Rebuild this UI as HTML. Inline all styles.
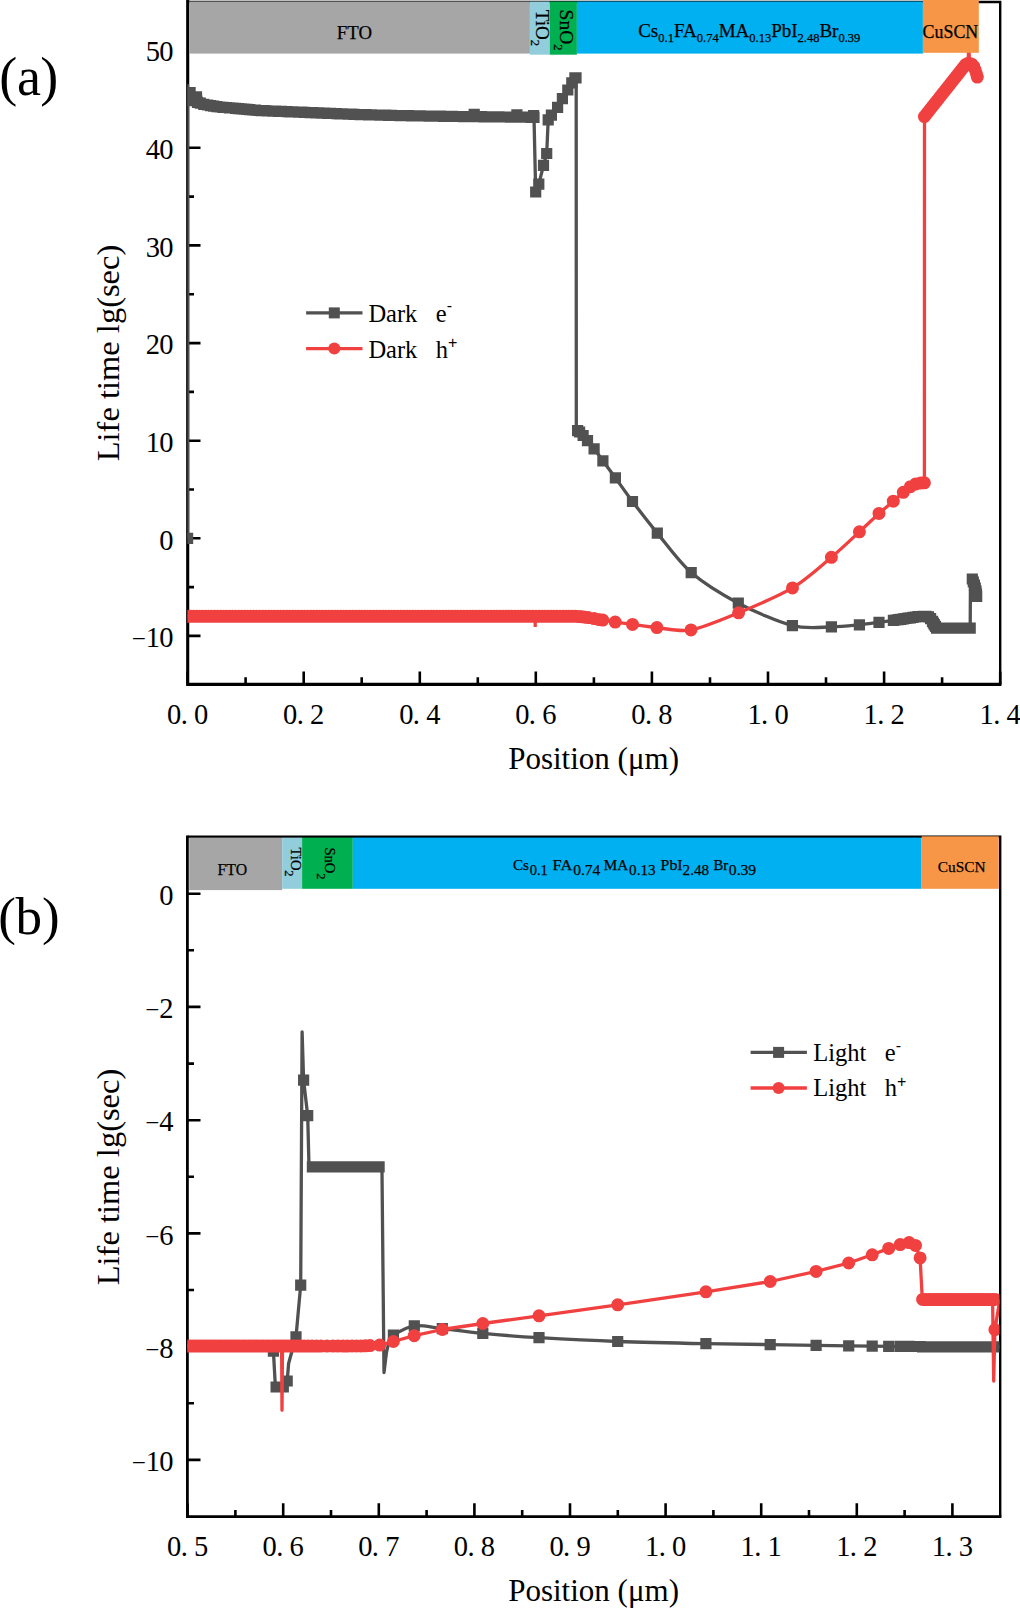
<!DOCTYPE html>
<html lang="en">
<head>
<meta charset="utf-8">
<title>Carrier life time vs position</title>
<style>
html,body{margin:0;padding:0;background:#fff;}
body{width:1020px;height:1608px;overflow:hidden;}
svg{display:block;}
text{font-family:"Liberation Serif",serif;fill:#000;}
.tk{font-size:28.5px;text-anchor:middle;}
.bd{stroke:#000;stroke-width:0.25px;}
.ttl{font-size:31px;text-anchor:middle;}
.lg{font-size:24.5px;white-space:pre;}
.yt{font-size:32.5px;}
.sp{font-family:"Liberation Sans",sans-serif;font-size:16px;}
.pl{font-size:54px;}
</style>
</head>
<body>
<svg width="1020" height="1608" viewBox="0 0 1020 1608">
<rect x="0" y="0" width="1020" height="1608" fill="#fff"/>
<defs>
<clipPath id="ca"><rect x="187.4" y="0" width="812.1" height="684.4"/></clipPath>
<clipPath id="cb"><rect x="187.4" y="836" width="812.1" height="680.5"/></clipPath>
</defs>

<!-- panel (a) frame -->
<g stroke="#000" fill="none" stroke-linecap="butt">
<path d="M187.7 0V684.4H1001.4" stroke-width="3.1"/>
<path d="M187.7 2H1000.2V684.4" stroke-width="2.4"/>
<path d="M187.7 635.9H200.5M187.7 538.3H200.5M187.7 440.7H200.5M187.7 343.1H200.5M187.7 245.4H200.5M187.7 147.8H200.5M187.7 587.1H194M187.7 489.5H194M187.7 391.9H194M187.7 294.2H194M187.7 196.6H194M187.7 99H194M187.6 684.4V671.5M245.6 684.4V677.3M303.7 684.4V671.5M361.7 684.4V677.3M419.8 684.4V671.5M477.8 684.4V677.3M535.8 684.4V671.5M593.9 684.4V677.3M651.9 684.4V671.5M710 684.4V677.3M768 684.4V671.5M826 684.4V677.3M884.1 684.4V671.5M942.1 684.4V677.3M1000.2 684.4V671.5" stroke-width="2.6"/>
</g>
<text class="tk" x="138.8 152.9 166.4" y="647.1"><tspan font-size="25">−</tspan>10</text>
<text class="tk" x="166.4" y="549.5">0</text>
<text class="tk" x="152.9 166.4" y="451.9">10</text>
<text class="tk" x="152.9 166.4" y="354.3">20</text>
<text class="tk" x="152.9 166.4" y="256.6">30</text>
<text class="tk" x="152.9 166.4" y="159">40</text>
<text class="tk" x="152.9 166.4" y="61.4">50</text>
<text class="tk" x="174.1 184.2 201.1" y="724">0.0</text>
<text class="tk" x="290.2 300.3 317.2" y="724">0.2</text>
<text class="tk" x="406.3 416.4 433.3" y="724">0.4</text>
<text class="tk" x="522.3 532.4 549.3" y="724">0.6</text>
<text class="tk" x="638.4 648.5 665.4" y="724">0.8</text>
<text class="tk" x="754.5 764.6 781.5" y="724">1.0</text>
<text class="tk" x="870.6 880.7 897.6" y="724">1.2</text>
<text class="tk" x="986.7 996.8 1013.7" y="724">1.4</text>
<g clip-path="url(#ca)">
<path d="M187.6 538.3L187.6 85.5L187.6 100L190.1 92.5L196.5 96.9L197.5 102.3C198 102.5 199.2 102.9 200.3 103.2C201.4 103.5 202.6 104 203.8 104.3C205 104.6 206 104.7 207.6 105C209.2 105.3 211.5 105.9 213.6 106.2C215.7 106.5 216.2 106.7 219.9 107C223.6 107.3 229.2 107.7 235.6 108.3C242 108.9 245.5 109.8 258.4 110.5C271.3 111.2 296.1 112 313 112.7C329.9 113.4 345.5 114.1 360 114.6C374.5 115.1 383.7 115.3 400 115.6C416.3 115.9 435.7 116.2 458 116.5C480.3 116.8 521.3 117.2 534 117.3L535.7 192L538.8 184.1L543.5 165.3L546.7 153.5L548.2 119.8L551.4 115.1L557.6 107.3L562.4 98.6L567.8 90L571.8 82.9L574.9 77.9L576 77.9L576.2 80L576.3 426L577.4 430.6" fill="none" stroke="#515151" stroke-width="3.3" stroke-linejoin="round"/>
<path d="M577.2 430.6C577.6 430.8 578.7 431.3 579.6 432C580.5 432.7 581.9 434.2 583.1 435.5C584.3 436.8 585.9 438.6 587.5 440.6C589.1 442.6 591.8 445.8 594.1 448.8C596.4 451.8 599.7 456.4 602.9 460.8C606.1 465.2 611 471.7 615.4 477.8C619.8 483.9 626.2 493.2 632.5 501.5C638.8 509.8 648.5 522.4 657.3 533.1C666.1 543.8 679.1 562.1 691.2 572.6C703.4 583.1 723.1 595.2 738.3 603.2C753.5 611.2 778.4 622 792.4 625.6C806.4 629.2 821.4 627 831.4 626.9C841.4 626.8 852.3 625.5 859.4 624.8C866.5 624.1 873.9 623 879 622.3C884.1 621.6 889.8 620.9 893.4 620.4C897 619.9 900.8 619.3 903.3 618.9C905.8 618.5 908.6 618.1 910.4 617.8C912.2 617.5 914 617.2 915.5 617C917 616.8 919 616.6 920.6 616.5C922.2 616.4 924.7 616.2 925.9 616.3C927.1 616.4 927.8 616.6 928.5 616.9C929.2 617.2 930 617.9 930.6 618.6C931.2 619.3 931.9 620.4 932.5 621.3C933.1 622.2 933.7 623.6 934.3 624.6C934.9 625.6 936.3 627.6 936.6 628.1L970.2 628.1L970.4 590L972.3 579L976.7 596.5" fill="none" stroke="#515151" stroke-width="3.3" stroke-linejoin="round"/>
<path d="M182 532.7h11.2v11.2h-11.2zM182 86.9h11.2v11.2h-11.2zM182 88.9h11.2v11.2h-11.2zM182 90.9h11.2v11.2h-11.2zM182 93.4h11.2v11.2h-11.2zM182 95.1h11.2v11.2h-11.2zM184.5 86.9h11.2v11.2h-11.2zM190.9 91.3h11.2v11.2h-11.2zM191.1 94.4h11.2v11.2h-11.2zM191.9 96.7h11.2v11.2h-11.2zM194.7 97.6h11.2v11.2h-11.2zM198.2 98.7h11.2v11.2h-11.2zM202 99.4h11.2v11.2h-11.2zM205 100h11.2v11.2h-11.2zM208 100.6h11.2v11.2h-11.2zM211.2 101h11.2v11.2h-11.2zM214.3 101.4h11.2v11.2h-11.2zM217.4 101.7h11.2v11.2h-11.2zM220.6 101.9h11.2v11.2h-11.2zM223.7 102.2h11.2v11.2h-11.2zM226.9 102.4h11.2v11.2h-11.2zM230 102.7h11.2v11.2h-11.2zM232.8 103h11.2v11.2h-11.2zM235.7 103.2h11.2v11.2h-11.2zM238.5 103.5h11.2v11.2h-11.2zM241.4 103.8h11.2v11.2h-11.2zM244.2 104.1h11.2v11.2h-11.2zM247.1 104.4h11.2v11.2h-11.2zM249.9 104.6h11.2v11.2h-11.2zM252.8 104.9h11.2v11.2h-11.2zM255.7 105h11.2v11.2h-11.2zM258.5 105.1h11.2v11.2h-11.2zM261.4 105.2h11.2v11.2h-11.2zM264.3 105.4h11.2v11.2h-11.2zM267.2 105.5h11.2v11.2h-11.2zM270 105.6h11.2v11.2h-11.2zM272.9 105.7h11.2v11.2h-11.2zM275.8 105.8h11.2v11.2h-11.2zM278.7 105.9h11.2v11.2h-11.2zM281.5 106.1h11.2v11.2h-11.2zM284.4 106.2h11.2v11.2h-11.2zM287.3 106.3h11.2v11.2h-11.2zM290.2 106.4h11.2v11.2h-11.2zM293 106.5h11.2v11.2h-11.2zM295.9 106.6h11.2v11.2h-11.2zM298.8 106.8h11.2v11.2h-11.2zM301.7 106.9h11.2v11.2h-11.2zM304.5 107h11.2v11.2h-11.2zM307.4 107.1h11.2v11.2h-11.2zM310.3 107.2h11.2v11.2h-11.2zM313.3 107.3h11.2v11.2h-11.2zM316.2 107.5h11.2v11.2h-11.2zM319.1 107.6h11.2v11.2h-11.2zM322.1 107.7h11.2v11.2h-11.2zM325 107.8h11.2v11.2h-11.2zM328 107.9h11.2v11.2h-11.2zM330.9 108.1h11.2v11.2h-11.2zM333.8 108.2h11.2v11.2h-11.2zM336.8 108.3h11.2v11.2h-11.2zM339.7 108.4h11.2v11.2h-11.2zM342.6 108.5h11.2v11.2h-11.2zM345.6 108.6h11.2v11.2h-11.2zM348.5 108.8h11.2v11.2h-11.2zM351.5 108.9h11.2v11.2h-11.2zM354.4 109h11.2v11.2h-11.2zM357.3 109.1h11.2v11.2h-11.2zM360.1 109.1h11.2v11.2h-11.2zM363 109.2h11.2v11.2h-11.2zM365.8 109.3h11.2v11.2h-11.2zM368.7 109.4h11.2v11.2h-11.2zM371.5 109.4h11.2v11.2h-11.2zM374.4 109.5h11.2v11.2h-11.2zM377.3 109.6h11.2v11.2h-11.2zM380.1 109.6h11.2v11.2h-11.2zM383 109.7h11.2v11.2h-11.2zM385.8 109.8h11.2v11.2h-11.2zM388.7 109.9h11.2v11.2h-11.2zM391.5 109.9h11.2v11.2h-11.2zM394.4 110h11.2v11.2h-11.2zM397.3 110h11.2v11.2h-11.2zM400.2 110.1h11.2v11.2h-11.2zM403.1 110.1h11.2v11.2h-11.2zM406 110.2h11.2v11.2h-11.2zM408.9 110.2h11.2v11.2h-11.2zM411.8 110.3h11.2v11.2h-11.2zM414.7 110.3h11.2v11.2h-11.2zM417.6 110.4h11.2v11.2h-11.2zM420.5 110.4h11.2v11.2h-11.2zM423.4 110.5h11.2v11.2h-11.2zM426.3 110.5h11.2v11.2h-11.2zM429.2 110.5h11.2v11.2h-11.2zM432.1 110.6h11.2v11.2h-11.2zM435 110.6h11.2v11.2h-11.2zM437.9 110.7h11.2v11.2h-11.2zM440.8 110.7h11.2v11.2h-11.2zM443.7 110.8h11.2v11.2h-11.2zM446.6 110.8h11.2v11.2h-11.2zM449.5 110.9h11.2v11.2h-11.2zM452.4 110.9h11.2v11.2h-11.2zM455.3 110.9h11.2v11.2h-11.2zM458.2 111h11.2v11.2h-11.2zM461.2 111h11.2v11.2h-11.2zM464.1 111h11.2v11.2h-11.2zM467 111.1h11.2v11.2h-11.2zM469.9 111.1h11.2v11.2h-11.2zM472.9 111.1h11.2v11.2h-11.2zM475.8 111.1h11.2v11.2h-11.2zM478.7 111.2h11.2v11.2h-11.2zM481.6 111.2h11.2v11.2h-11.2zM484.6 111.2h11.2v11.2h-11.2zM487.5 111.3h11.2v11.2h-11.2zM490.4 111.3h11.2v11.2h-11.2zM493.3 111.3h11.2v11.2h-11.2zM496.2 111.4h11.2v11.2h-11.2zM499.2 111.4h11.2v11.2h-11.2zM502.1 111.4h11.2v11.2h-11.2zM505 111.5h11.2v11.2h-11.2zM507.9 111.5h11.2v11.2h-11.2zM510.9 111.5h11.2v11.2h-11.2zM513.8 111.5h11.2v11.2h-11.2zM516.7 111.6h11.2v11.2h-11.2zM519.6 111.6h11.2v11.2h-11.2zM522.6 111.6h11.2v11.2h-11.2zM525.5 111.7h11.2v11.2h-11.2zM528.4 111.7h11.2v11.2h-11.2zM468.6 108.7h11.2v11.2h-11.2zM511.3 109.3h11.2v11.2h-11.2zM528 110h11.2v11.2h-11.2zM530.1 186.4h11.2v11.2h-11.2zM533.2 178.5h11.2v11.2h-11.2zM537.9 159.7h11.2v11.2h-11.2zM541.1 147.9h11.2v11.2h-11.2zM542.6 114.2h11.2v11.2h-11.2zM545.8 109.5h11.2v11.2h-11.2zM552 101.7h11.2v11.2h-11.2zM556.8 93h11.2v11.2h-11.2zM562.2 84.4h11.2v11.2h-11.2zM566.2 77.3h11.2v11.2h-11.2zM569.3 72.3h11.2v11.2h-11.2zM570.4 72.3h11.2v11.2h-11.2zM572 425h11.2v11.2h-11.2zM574 426.4h11.2v11.2h-11.2zM577.5 429.9h11.2v11.2h-11.2zM581.9 435h11.2v11.2h-11.2zM588.5 443.2h11.2v11.2h-11.2zM597.3 455.2h11.2v11.2h-11.2zM609.8 472.2h11.2v11.2h-11.2zM626.9 495.9h11.2v11.2h-11.2zM651.7 527.5h11.2v11.2h-11.2zM685.6 567h11.2v11.2h-11.2zM732.7 597.6h11.2v11.2h-11.2zM786.8 620h11.2v11.2h-11.2zM825.8 621.3h11.2v11.2h-11.2zM853.8 619.2h11.2v11.2h-11.2zM873.4 616.7h11.2v11.2h-11.2zM887.8 614.8h11.2v11.2h-11.2zM887.8 614.8h11.2v11.2h-11.2zM890.3 614.4h11.2v11.2h-11.2zM892.7 614h11.2v11.2h-11.2zM895.2 613.7h11.2v11.2h-11.2zM897.7 613.3h11.2v11.2h-11.2zM900.1 612.9h11.2v11.2h-11.2zM902.4 612.6h11.2v11.2h-11.2zM904.8 612.2h11.2v11.2h-11.2zM907.4 611.8h11.2v11.2h-11.2zM909.9 611.4h11.2v11.2h-11.2zM912.4 611.1h11.2v11.2h-11.2zM915 610.9h11.2v11.2h-11.2zM917.6 610.8h11.2v11.2h-11.2zM920.3 610.7h11.2v11.2h-11.2zM922.9 611.3h11.2v11.2h-11.2zM925 613h11.2v11.2h-11.2zM926.9 615.7h11.2v11.2h-11.2zM927.8 617.4h11.2v11.2h-11.2zM928.7 619h11.2v11.2h-11.2zM929.9 620.8h11.2v11.2h-11.2zM931 622.5h11.2v11.2h-11.2zM931 622.5h11.2v11.2h-11.2zM933.8 622.5h11.2v11.2h-11.2zM936.6 622.5h11.2v11.2h-11.2zM939.4 622.5h11.2v11.2h-11.2zM942.2 622.5h11.2v11.2h-11.2zM945 622.5h11.2v11.2h-11.2zM947.8 622.5h11.2v11.2h-11.2zM950.6 622.5h11.2v11.2h-11.2zM953.4 622.5h11.2v11.2h-11.2zM956.2 622.5h11.2v11.2h-11.2zM959 622.5h11.2v11.2h-11.2zM961.8 622.5h11.2v11.2h-11.2zM964.6 622.5h11.2v11.2h-11.2zM966.7 573.4h11.2v11.2h-11.2zM967.7 576.4h11.2v11.2h-11.2zM968.8 579.4h11.2v11.2h-11.2zM969.7 582.4h11.2v11.2h-11.2zM970.4 585.4h11.2v11.2h-11.2zM970.9 588.4h11.2v11.2h-11.2zM971.1 590.9h11.2v11.2h-11.2z" fill="#515151"/>
<path d="M535.2 616.3V627M187.6 616.3L575 616.3C576 616.4 580 616.6 582 616.8C584 617 586.2 617.3 588 617.6C589.8 617.9 592.4 618.3 594 618.6C595.6 618.9 597.2 619.2 598.5 619.4C599.8 619.6 600.3 619.7 602.8 620.1C605.3 620.5 610.7 621.5 615.2 622.1C619.7 622.7 626.2 623.6 632.5 624.4C638.8 625.2 648.1 626.8 656.9 627.6C665.7 628.4 678.7 632.1 691 629.9C703.3 627.7 723.4 619.1 738.6 612.8C753.8 606.5 778.6 596.2 792.5 587.9C806.4 579.6 821.4 565.7 831.4 557.3C841.4 548.9 852.3 538.4 859.4 531.8C866.5 525.2 873.9 518 879 513.4C884.1 508.8 889.7 504.4 893.3 501.2C896.9 498 900.7 494.5 903.3 492.3C905.9 490.1 908.6 487.9 910.4 486.7C912.2 485.5 914 484.7 915.5 484.1C917 483.5 919.3 483.1 920.6 482.9C921.9 482.7 923.8 482.8 924.4 482.8L924.5 116.6L966.3 63.9L968.2 62.5L968.8 40L969.4 62.5L977.3 77.1" fill="none" stroke="#F14040" stroke-width="3.3" stroke-linejoin="round"/>
<path d="M181.1 616.3a6.5 6.5 0 1 0 13 0a6.5 6.5 0 1 0 -13 0zM184.1 616.3a6.5 6.5 0 1 0 13 0a6.5 6.5 0 1 0 -13 0zM187.1 616.3a6.5 6.5 0 1 0 13 0a6.5 6.5 0 1 0 -13 0zM190.1 616.3a6.5 6.5 0 1 0 13 0a6.5 6.5 0 1 0 -13 0zM193.1 616.3a6.5 6.5 0 1 0 13 0a6.5 6.5 0 1 0 -13 0zM196.1 616.3a6.5 6.5 0 1 0 13 0a6.5 6.5 0 1 0 -13 0zM199.1 616.3a6.5 6.5 0 1 0 13 0a6.5 6.5 0 1 0 -13 0zM202.1 616.3a6.5 6.5 0 1 0 13 0a6.5 6.5 0 1 0 -13 0zM205.1 616.3a6.5 6.5 0 1 0 13 0a6.5 6.5 0 1 0 -13 0zM208.1 616.3a6.5 6.5 0 1 0 13 0a6.5 6.5 0 1 0 -13 0zM211.1 616.3a6.5 6.5 0 1 0 13 0a6.5 6.5 0 1 0 -13 0zM214.1 616.3a6.5 6.5 0 1 0 13 0a6.5 6.5 0 1 0 -13 0zM217.1 616.3a6.5 6.5 0 1 0 13 0a6.5 6.5 0 1 0 -13 0zM220.1 616.3a6.5 6.5 0 1 0 13 0a6.5 6.5 0 1 0 -13 0zM223.1 616.3a6.5 6.5 0 1 0 13 0a6.5 6.5 0 1 0 -13 0zM226.1 616.3a6.5 6.5 0 1 0 13 0a6.5 6.5 0 1 0 -13 0zM229.1 616.3a6.5 6.5 0 1 0 13 0a6.5 6.5 0 1 0 -13 0zM232.2 616.3a6.5 6.5 0 1 0 13 0a6.5 6.5 0 1 0 -13 0zM235.2 616.3a6.5 6.5 0 1 0 13 0a6.5 6.5 0 1 0 -13 0zM238.2 616.3a6.5 6.5 0 1 0 13 0a6.5 6.5 0 1 0 -13 0zM241.2 616.3a6.5 6.5 0 1 0 13 0a6.5 6.5 0 1 0 -13 0zM244.2 616.3a6.5 6.5 0 1 0 13 0a6.5 6.5 0 1 0 -13 0zM247.2 616.3a6.5 6.5 0 1 0 13 0a6.5 6.5 0 1 0 -13 0zM250.2 616.3a6.5 6.5 0 1 0 13 0a6.5 6.5 0 1 0 -13 0zM253.2 616.3a6.5 6.5 0 1 0 13 0a6.5 6.5 0 1 0 -13 0zM256.2 616.3a6.5 6.5 0 1 0 13 0a6.5 6.5 0 1 0 -13 0zM259.2 616.3a6.5 6.5 0 1 0 13 0a6.5 6.5 0 1 0 -13 0zM262.2 616.3a6.5 6.5 0 1 0 13 0a6.5 6.5 0 1 0 -13 0zM265.2 616.3a6.5 6.5 0 1 0 13 0a6.5 6.5 0 1 0 -13 0zM268.2 616.3a6.5 6.5 0 1 0 13 0a6.5 6.5 0 1 0 -13 0zM271.2 616.3a6.5 6.5 0 1 0 13 0a6.5 6.5 0 1 0 -13 0zM274.2 616.3a6.5 6.5 0 1 0 13 0a6.5 6.5 0 1 0 -13 0zM277.2 616.3a6.5 6.5 0 1 0 13 0a6.5 6.5 0 1 0 -13 0zM280.2 616.3a6.5 6.5 0 1 0 13 0a6.5 6.5 0 1 0 -13 0zM283.2 616.3a6.5 6.5 0 1 0 13 0a6.5 6.5 0 1 0 -13 0zM286.2 616.3a6.5 6.5 0 1 0 13 0a6.5 6.5 0 1 0 -13 0zM289.2 616.3a6.5 6.5 0 1 0 13 0a6.5 6.5 0 1 0 -13 0zM292.2 616.3a6.5 6.5 0 1 0 13 0a6.5 6.5 0 1 0 -13 0zM295.2 616.3a6.5 6.5 0 1 0 13 0a6.5 6.5 0 1 0 -13 0zM298.2 616.3a6.5 6.5 0 1 0 13 0a6.5 6.5 0 1 0 -13 0zM301.2 616.3a6.5 6.5 0 1 0 13 0a6.5 6.5 0 1 0 -13 0zM304.2 616.3a6.5 6.5 0 1 0 13 0a6.5 6.5 0 1 0 -13 0zM307.2 616.3a6.5 6.5 0 1 0 13 0a6.5 6.5 0 1 0 -13 0zM310.2 616.3a6.5 6.5 0 1 0 13 0a6.5 6.5 0 1 0 -13 0zM313.2 616.3a6.5 6.5 0 1 0 13 0a6.5 6.5 0 1 0 -13 0zM316.2 616.3a6.5 6.5 0 1 0 13 0a6.5 6.5 0 1 0 -13 0zM319.2 616.3a6.5 6.5 0 1 0 13 0a6.5 6.5 0 1 0 -13 0zM322.2 616.3a6.5 6.5 0 1 0 13 0a6.5 6.5 0 1 0 -13 0zM325.2 616.3a6.5 6.5 0 1 0 13 0a6.5 6.5 0 1 0 -13 0zM328.3 616.3a6.5 6.5 0 1 0 13 0a6.5 6.5 0 1 0 -13 0zM331.3 616.3a6.5 6.5 0 1 0 13 0a6.5 6.5 0 1 0 -13 0zM334.3 616.3a6.5 6.5 0 1 0 13 0a6.5 6.5 0 1 0 -13 0zM337.3 616.3a6.5 6.5 0 1 0 13 0a6.5 6.5 0 1 0 -13 0zM340.3 616.3a6.5 6.5 0 1 0 13 0a6.5 6.5 0 1 0 -13 0zM343.3 616.3a6.5 6.5 0 1 0 13 0a6.5 6.5 0 1 0 -13 0zM346.3 616.3a6.5 6.5 0 1 0 13 0a6.5 6.5 0 1 0 -13 0zM349.3 616.3a6.5 6.5 0 1 0 13 0a6.5 6.5 0 1 0 -13 0zM352.3 616.3a6.5 6.5 0 1 0 13 0a6.5 6.5 0 1 0 -13 0zM355.3 616.3a6.5 6.5 0 1 0 13 0a6.5 6.5 0 1 0 -13 0zM358.3 616.3a6.5 6.5 0 1 0 13 0a6.5 6.5 0 1 0 -13 0zM361.3 616.3a6.5 6.5 0 1 0 13 0a6.5 6.5 0 1 0 -13 0zM364.3 616.3a6.5 6.5 0 1 0 13 0a6.5 6.5 0 1 0 -13 0zM367.3 616.3a6.5 6.5 0 1 0 13 0a6.5 6.5 0 1 0 -13 0zM370.3 616.3a6.5 6.5 0 1 0 13 0a6.5 6.5 0 1 0 -13 0zM373.3 616.3a6.5 6.5 0 1 0 13 0a6.5 6.5 0 1 0 -13 0zM376.3 616.3a6.5 6.5 0 1 0 13 0a6.5 6.5 0 1 0 -13 0zM379.3 616.3a6.5 6.5 0 1 0 13 0a6.5 6.5 0 1 0 -13 0zM382.3 616.3a6.5 6.5 0 1 0 13 0a6.5 6.5 0 1 0 -13 0zM385.3 616.3a6.5 6.5 0 1 0 13 0a6.5 6.5 0 1 0 -13 0zM388.3 616.3a6.5 6.5 0 1 0 13 0a6.5 6.5 0 1 0 -13 0zM391.3 616.3a6.5 6.5 0 1 0 13 0a6.5 6.5 0 1 0 -13 0zM394.3 616.3a6.5 6.5 0 1 0 13 0a6.5 6.5 0 1 0 -13 0zM397.3 616.3a6.5 6.5 0 1 0 13 0a6.5 6.5 0 1 0 -13 0zM400.3 616.3a6.5 6.5 0 1 0 13 0a6.5 6.5 0 1 0 -13 0zM403.3 616.3a6.5 6.5 0 1 0 13 0a6.5 6.5 0 1 0 -13 0zM406.3 616.3a6.5 6.5 0 1 0 13 0a6.5 6.5 0 1 0 -13 0zM409.3 616.3a6.5 6.5 0 1 0 13 0a6.5 6.5 0 1 0 -13 0zM412.3 616.3a6.5 6.5 0 1 0 13 0a6.5 6.5 0 1 0 -13 0zM415.3 616.3a6.5 6.5 0 1 0 13 0a6.5 6.5 0 1 0 -13 0zM418.3 616.3a6.5 6.5 0 1 0 13 0a6.5 6.5 0 1 0 -13 0zM421.3 616.3a6.5 6.5 0 1 0 13 0a6.5 6.5 0 1 0 -13 0zM424.4 616.3a6.5 6.5 0 1 0 13 0a6.5 6.5 0 1 0 -13 0zM427.4 616.3a6.5 6.5 0 1 0 13 0a6.5 6.5 0 1 0 -13 0zM430.4 616.3a6.5 6.5 0 1 0 13 0a6.5 6.5 0 1 0 -13 0zM433.4 616.3a6.5 6.5 0 1 0 13 0a6.5 6.5 0 1 0 -13 0zM436.4 616.3a6.5 6.5 0 1 0 13 0a6.5 6.5 0 1 0 -13 0zM439.4 616.3a6.5 6.5 0 1 0 13 0a6.5 6.5 0 1 0 -13 0zM442.4 616.3a6.5 6.5 0 1 0 13 0a6.5 6.5 0 1 0 -13 0zM445.4 616.3a6.5 6.5 0 1 0 13 0a6.5 6.5 0 1 0 -13 0zM448.4 616.3a6.5 6.5 0 1 0 13 0a6.5 6.5 0 1 0 -13 0zM451.4 616.3a6.5 6.5 0 1 0 13 0a6.5 6.5 0 1 0 -13 0zM454.4 616.3a6.5 6.5 0 1 0 13 0a6.5 6.5 0 1 0 -13 0zM457.4 616.3a6.5 6.5 0 1 0 13 0a6.5 6.5 0 1 0 -13 0zM460.4 616.3a6.5 6.5 0 1 0 13 0a6.5 6.5 0 1 0 -13 0zM463.4 616.3a6.5 6.5 0 1 0 13 0a6.5 6.5 0 1 0 -13 0zM466.4 616.3a6.5 6.5 0 1 0 13 0a6.5 6.5 0 1 0 -13 0zM469.4 616.3a6.5 6.5 0 1 0 13 0a6.5 6.5 0 1 0 -13 0zM472.4 616.3a6.5 6.5 0 1 0 13 0a6.5 6.5 0 1 0 -13 0zM475.4 616.3a6.5 6.5 0 1 0 13 0a6.5 6.5 0 1 0 -13 0zM478.4 616.3a6.5 6.5 0 1 0 13 0a6.5 6.5 0 1 0 -13 0zM481.4 616.3a6.5 6.5 0 1 0 13 0a6.5 6.5 0 1 0 -13 0zM484.4 616.3a6.5 6.5 0 1 0 13 0a6.5 6.5 0 1 0 -13 0zM487.4 616.3a6.5 6.5 0 1 0 13 0a6.5 6.5 0 1 0 -13 0zM490.4 616.3a6.5 6.5 0 1 0 13 0a6.5 6.5 0 1 0 -13 0zM493.4 616.3a6.5 6.5 0 1 0 13 0a6.5 6.5 0 1 0 -13 0zM496.4 616.3a6.5 6.5 0 1 0 13 0a6.5 6.5 0 1 0 -13 0zM499.4 616.3a6.5 6.5 0 1 0 13 0a6.5 6.5 0 1 0 -13 0zM502.4 616.3a6.5 6.5 0 1 0 13 0a6.5 6.5 0 1 0 -13 0zM505.4 616.3a6.5 6.5 0 1 0 13 0a6.5 6.5 0 1 0 -13 0zM508.4 616.3a6.5 6.5 0 1 0 13 0a6.5 6.5 0 1 0 -13 0zM511.4 616.3a6.5 6.5 0 1 0 13 0a6.5 6.5 0 1 0 -13 0zM514.4 616.3a6.5 6.5 0 1 0 13 0a6.5 6.5 0 1 0 -13 0zM517.4 616.3a6.5 6.5 0 1 0 13 0a6.5 6.5 0 1 0 -13 0zM520.5 616.3a6.5 6.5 0 1 0 13 0a6.5 6.5 0 1 0 -13 0zM523.5 616.3a6.5 6.5 0 1 0 13 0a6.5 6.5 0 1 0 -13 0zM526.5 616.3a6.5 6.5 0 1 0 13 0a6.5 6.5 0 1 0 -13 0zM529.5 616.3a6.5 6.5 0 1 0 13 0a6.5 6.5 0 1 0 -13 0zM532.5 616.3a6.5 6.5 0 1 0 13 0a6.5 6.5 0 1 0 -13 0zM535.5 616.3a6.5 6.5 0 1 0 13 0a6.5 6.5 0 1 0 -13 0zM538.5 616.3a6.5 6.5 0 1 0 13 0a6.5 6.5 0 1 0 -13 0zM541.5 616.3a6.5 6.5 0 1 0 13 0a6.5 6.5 0 1 0 -13 0zM544.5 616.3a6.5 6.5 0 1 0 13 0a6.5 6.5 0 1 0 -13 0zM547.5 616.3a6.5 6.5 0 1 0 13 0a6.5 6.5 0 1 0 -13 0zM550.5 616.3a6.5 6.5 0 1 0 13 0a6.5 6.5 0 1 0 -13 0zM553.5 616.3a6.5 6.5 0 1 0 13 0a6.5 6.5 0 1 0 -13 0zM556.5 616.3a6.5 6.5 0 1 0 13 0a6.5 6.5 0 1 0 -13 0zM559.5 616.3a6.5 6.5 0 1 0 13 0a6.5 6.5 0 1 0 -13 0zM562.5 616.3a6.5 6.5 0 1 0 13 0a6.5 6.5 0 1 0 -13 0zM565.5 616.3a6.5 6.5 0 1 0 13 0a6.5 6.5 0 1 0 -13 0zM568.5 616.3a6.5 6.5 0 1 0 13 0a6.5 6.5 0 1 0 -13 0zM568.5 616.3a6.5 6.5 0 1 0 13 0a6.5 6.5 0 1 0 -13 0zM570.8 616.5a6.5 6.5 0 1 0 13 0a6.5 6.5 0 1 0 -13 0zM573.2 616.6a6.5 6.5 0 1 0 13 0a6.5 6.5 0 1 0 -13 0zM575.5 616.8a6.5 6.5 0 1 0 13 0a6.5 6.5 0 1 0 -13 0zM578.5 617.2a6.5 6.5 0 1 0 13 0a6.5 6.5 0 1 0 -13 0zM581.5 617.6a6.5 6.5 0 1 0 13 0a6.5 6.5 0 1 0 -13 0zM587.5 618.6a6.5 6.5 0 1 0 13 0a6.5 6.5 0 1 0 -13 0zM592 619.4a6.5 6.5 0 1 0 13 0a6.5 6.5 0 1 0 -13 0zM596.3 620.1a6.5 6.5 0 1 0 13 0a6.5 6.5 0 1 0 -13 0zM608.7 622.1a6.5 6.5 0 1 0 13 0a6.5 6.5 0 1 0 -13 0zM626 624.4a6.5 6.5 0 1 0 13 0a6.5 6.5 0 1 0 -13 0zM650.4 627.6a6.5 6.5 0 1 0 13 0a6.5 6.5 0 1 0 -13 0zM684.5 629.9a6.5 6.5 0 1 0 13 0a6.5 6.5 0 1 0 -13 0zM732.1 612.8a6.5 6.5 0 1 0 13 0a6.5 6.5 0 1 0 -13 0zM786 587.9a6.5 6.5 0 1 0 13 0a6.5 6.5 0 1 0 -13 0zM824.9 557.3a6.5 6.5 0 1 0 13 0a6.5 6.5 0 1 0 -13 0zM852.9 531.8a6.5 6.5 0 1 0 13 0a6.5 6.5 0 1 0 -13 0zM872.5 513.4a6.5 6.5 0 1 0 13 0a6.5 6.5 0 1 0 -13 0zM886.8 501.2a6.5 6.5 0 1 0 13 0a6.5 6.5 0 1 0 -13 0zM896.8 492.3a6.5 6.5 0 1 0 13 0a6.5 6.5 0 1 0 -13 0zM903.9 486.7a6.5 6.5 0 1 0 13 0a6.5 6.5 0 1 0 -13 0zM909 484.1a6.5 6.5 0 1 0 13 0a6.5 6.5 0 1 0 -13 0zM914.1 482.9a6.5 6.5 0 1 0 13 0a6.5 6.5 0 1 0 -13 0zM917.9 482.8a6.5 6.5 0 1 0 13 0a6.5 6.5 0 1 0 -13 0zM917.9 116.6a6.5 6.5 0 1 0 13 0a6.5 6.5 0 1 0 -13 0zM919.5 114.6a6.5 6.5 0 1 0 13 0a6.5 6.5 0 1 0 -13 0zM921.1 112.6a6.5 6.5 0 1 0 13 0a6.5 6.5 0 1 0 -13 0zM922.7 110.6a6.5 6.5 0 1 0 13 0a6.5 6.5 0 1 0 -13 0zM924.2 108.6a6.5 6.5 0 1 0 13 0a6.5 6.5 0 1 0 -13 0zM925.8 106.6a6.5 6.5 0 1 0 13 0a6.5 6.5 0 1 0 -13 0zM927.4 104.6a6.5 6.5 0 1 0 13 0a6.5 6.5 0 1 0 -13 0zM929 102.6a6.5 6.5 0 1 0 13 0a6.5 6.5 0 1 0 -13 0zM930.6 100.6a6.5 6.5 0 1 0 13 0a6.5 6.5 0 1 0 -13 0zM932.2 98.6a6.5 6.5 0 1 0 13 0a6.5 6.5 0 1 0 -13 0zM933.7 96.6a6.5 6.5 0 1 0 13 0a6.5 6.5 0 1 0 -13 0zM935.3 94.6a6.5 6.5 0 1 0 13 0a6.5 6.5 0 1 0 -13 0zM936.9 92.6a6.5 6.5 0 1 0 13 0a6.5 6.5 0 1 0 -13 0zM938.5 90.6a6.5 6.5 0 1 0 13 0a6.5 6.5 0 1 0 -13 0zM940.1 88.6a6.5 6.5 0 1 0 13 0a6.5 6.5 0 1 0 -13 0zM941.7 86.6a6.5 6.5 0 1 0 13 0a6.5 6.5 0 1 0 -13 0zM943.3 84.6a6.5 6.5 0 1 0 13 0a6.5 6.5 0 1 0 -13 0zM944.8 82.6a6.5 6.5 0 1 0 13 0a6.5 6.5 0 1 0 -13 0zM946.4 80.6a6.5 6.5 0 1 0 13 0a6.5 6.5 0 1 0 -13 0zM948 78.6a6.5 6.5 0 1 0 13 0a6.5 6.5 0 1 0 -13 0zM949.6 76.6a6.5 6.5 0 1 0 13 0a6.5 6.5 0 1 0 -13 0zM951.2 74.6a6.5 6.5 0 1 0 13 0a6.5 6.5 0 1 0 -13 0zM952.8 72.6a6.5 6.5 0 1 0 13 0a6.5 6.5 0 1 0 -13 0zM954.3 70.6a6.5 6.5 0 1 0 13 0a6.5 6.5 0 1 0 -13 0zM955.9 68.6a6.5 6.5 0 1 0 13 0a6.5 6.5 0 1 0 -13 0zM957.5 66.6a6.5 6.5 0 1 0 13 0a6.5 6.5 0 1 0 -13 0zM959.1 64.6a6.5 6.5 0 1 0 13 0a6.5 6.5 0 1 0 -13 0zM961.1 63.6a6.5 6.5 0 1 0 13 0a6.5 6.5 0 1 0 -13 0zM963.3 63.6a6.5 6.5 0 1 0 13 0a6.5 6.5 0 1 0 -13 0zM965.3 64.2a6.5 6.5 0 1 0 13 0a6.5 6.5 0 1 0 -13 0zM967.1 66.2a6.5 6.5 0 1 0 13 0a6.5 6.5 0 1 0 -13 0zM968.7 69.8a6.5 6.5 0 1 0 13 0a6.5 6.5 0 1 0 -13 0zM970 73.8a6.5 6.5 0 1 0 13 0a6.5 6.5 0 1 0 -13 0zM970.8 77.1a6.5 6.5 0 1 0 13 0a6.5 6.5 0 1 0 -13 0z" fill="#F14040"/>
</g>
<!-- device layer band (a) -->
<rect x="189.2" y="1.5" width="340.7" height="52.1" fill="#A6A6A6"/>
<rect x="529.9" y="1.5" width="19.9" height="53.2" fill="#92CDDC"/>
<rect x="549.8" y="1.5" width="27.1" height="53.2" fill="#00B050"/>
<rect x="576.9" y="1.5" width="346" height="52.1" fill="#00B0F0"/>
<rect x="922.9" y="0" width="55.9" height="52.8" fill="#F79646"/>
<text class="bd" x="354.4" y="38.5" font-size="18.8" text-anchor="middle">FTO</text>
<text class="bd" transform="translate(536.3 9.8) rotate(90)" font-size="19">TiO<tspan font-size="12.5" dy="5.5">2</tspan></text>
<text class="bd" transform="translate(559.8 9.6) rotate(90)" font-size="19.5">SnO<tspan font-size="12.5" dy="5.5">2</tspan></text>
<text class="bd" x="638.2" y="36.6" font-size="19">Cs<tspan font-size="12.5" dy="5">0.1</tspan><tspan dy="-5">FA</tspan><tspan font-size="12.5" dy="5">0.74</tspan><tspan dy="-5">MA</tspan><tspan font-size="12.5" dy="5">0.13</tspan><tspan dy="-5">PbI</tspan><tspan font-size="12.5" dy="5">2.48</tspan><tspan dy="-5">Br</tspan><tspan font-size="12.5" dy="5">0.39</tspan></text>
<text class="bd" x="922.6" y="37.9" font-size="18.5" textLength="55.6" lengthAdjust="spacingAndGlyphs">CuSCN</text>
<!-- legend (a) -->
<path d="M306.1 312.9H362.5" stroke="#515151" stroke-width="3.4"/>
<rect x="328.8" y="307.4" width="11" height="11" fill="#515151"/>
<path d="M306.1 348.6H362.5" stroke="#F14040" stroke-width="3.4"/>
<circle cx="334.3" cy="348.6" r="6" fill="#F14040"/>
<text class="lg" x="368.4" y="321.6" xml:space="preserve">Dark   e<tspan class="sp" dy="-10.7">-</tspan></text>
<text class="lg" x="368.4" y="357.5" xml:space="preserve">Dark   h<tspan class="sp" dy="-9.5">+</tspan></text>
<text class="ttl" x="593.6" y="768.8">Position (μm)</text>
<text class="ttl yt" transform="translate(118.5 353) rotate(-90)">Life time lg(sec)</text>
<text class="pl" x="-0.8 17 40.2" y="95">(a)</text>
<!-- panel (b) frame -->
<g stroke="#000" fill="none" stroke-linecap="butt">
<path d="M187.4 835.6V1516.6H1001.4" stroke-width="2.8"/>
<path d="M187.7 836.8H1000.2V1516.5" stroke-width="2.4"/>
<path d="M187.7 1459.9H200.5M187.7 1403.3H194M187.7 1346.7H200.5M187.7 1290H194M187.7 1233.4H200.5M187.7 1176.8H194M187.7 1120.2H200.5M187.7 1063.6H194M187.7 1006.9H200.5M187.7 950.3H194M187.7 893.7H200.5M187.6 1516.5V1503.2M235.4 1516.5V1510.1M283.2 1516.5V1503.2M331 1516.5V1510.1M378.8 1516.5V1503.2M426.6 1516.5V1510.1M474.4 1516.5V1503.2M522.2 1516.5V1510.1M570 1516.5V1503.2M617.8 1516.5V1510.1M665.6 1516.5V1503.2M713.4 1516.5V1510.1M761.2 1516.5V1503.2M809 1516.5V1510.1M856.8 1516.5V1503.2M904.6 1516.5V1510.1M952.4 1516.5V1503.2" stroke-width="2.6"/>
</g>
<text class="tk" x="138.8 152.9 166.4" y="1471.1"><tspan font-size="25">−</tspan>10</text>
<text class="tk" x="152.3 166.4" y="1357.9"><tspan font-size="25">−</tspan>8</text>
<text class="tk" x="152.3 166.4" y="1244.6"><tspan font-size="25">−</tspan>6</text>
<text class="tk" x="152.3 166.4" y="1131.4"><tspan font-size="25">−</tspan>4</text>
<text class="tk" x="152.3 166.4" y="1018.1"><tspan font-size="25">−</tspan>2</text>
<text class="tk" x="166.4" y="904.9">0</text>
<text class="tk" x="174.1 184.2 201.1" y="1555.8">0.5</text>
<text class="tk" x="269.7 279.8 296.7" y="1555.8">0.6</text>
<text class="tk" x="365.3 375.4 392.3" y="1555.8">0.7</text>
<text class="tk" x="460.9 471 487.9" y="1555.8">0.8</text>
<text class="tk" x="556.5 566.6 583.5" y="1555.8">0.9</text>
<text class="tk" x="652.1 662.2 679.1" y="1555.8">1.0</text>
<text class="tk" x="747.7 757.8 774.7" y="1555.8">1.1</text>
<text class="tk" x="843.3 853.4 870.3" y="1555.8">1.2</text>
<text class="tk" x="938.9 949 965.9" y="1555.8">1.3</text>
<g clip-path="url(#cb)">
<path d="M187.6 1346.3L268 1346.3L273.4 1351.1L275.4 1387L283.3 1387L287.2 1381L288.6 1363.5L291.7 1352.3L296 1336.8L300.7 1285.1L302.1 1031.8L303.6 1080.1L307.7 1115.7L309 1166.8L379.1 1166.8L382 1172L384 1372.6L386.5 1352" fill="none" stroke="#515151" stroke-width="3.3" stroke-linejoin="round" stroke-linecap="round"/>
<path d="M386.5 1352C387 1350.2 388.4 1343.8 389.5 1341C390.6 1338.2 389.3 1337.7 393.4 1335.2C397.5 1332.7 406.1 1326.9 414.3 1325.8C422.5 1324.7 430.9 1327.3 442.3 1328.6C453.7 1329.9 466.7 1331.9 482.8 1333.4C498.9 1334.9 516.5 1336.4 539 1337.7C561.5 1339 589.9 1340.5 617.7 1341.5C645.5 1342.5 680.5 1343.2 705.9 1343.7C731.3 1344.2 751.8 1344.3 770.2 1344.6C788.6 1344.9 803 1345.1 816.1 1345.3C829.2 1345.5 839.4 1345.7 848.7 1345.8C858.1 1345.9 865.5 1346 872.2 1346.1C878.9 1346.2 886 1346.3 888.7 1346.3L1000 1346.8" fill="none" stroke="#515151" stroke-width="3.3" stroke-linejoin="round"/>
<path d="M182 1340.7h11.2v11.2h-11.2zM185 1340.7h11.2v11.2h-11.2zM188 1340.7h11.2v11.2h-11.2zM190.9 1340.7h11.2v11.2h-11.2zM193.9 1340.7h11.2v11.2h-11.2zM196.9 1340.7h11.2v11.2h-11.2zM199.9 1340.7h11.2v11.2h-11.2zM202.8 1340.7h11.2v11.2h-11.2zM205.8 1340.7h11.2v11.2h-11.2zM208.8 1340.7h11.2v11.2h-11.2zM211.8 1340.7h11.2v11.2h-11.2zM214.8 1340.7h11.2v11.2h-11.2zM217.7 1340.7h11.2v11.2h-11.2zM220.7 1340.7h11.2v11.2h-11.2zM223.7 1340.7h11.2v11.2h-11.2zM226.7 1340.7h11.2v11.2h-11.2zM229.6 1340.7h11.2v11.2h-11.2zM232.6 1340.7h11.2v11.2h-11.2zM235.6 1340.7h11.2v11.2h-11.2zM238.6 1340.7h11.2v11.2h-11.2zM241.6 1340.7h11.2v11.2h-11.2zM244.5 1340.7h11.2v11.2h-11.2zM247.5 1340.7h11.2v11.2h-11.2zM250.5 1340.7h11.2v11.2h-11.2zM253.5 1340.7h11.2v11.2h-11.2zM256.4 1340.7h11.2v11.2h-11.2zM259.4 1340.7h11.2v11.2h-11.2zM262.4 1340.7h11.2v11.2h-11.2zM267.8 1345.5h11.2v11.2h-11.2zM270.5 1381.4h11.2v11.2h-11.2zM277.7 1381.4h11.2v11.2h-11.2zM281.6 1375.4h11.2v11.2h-11.2zM290.4 1331.2h11.2v11.2h-11.2zM295.1 1279.5h11.2v11.2h-11.2zM298 1074.5h11.2v11.2h-11.2zM302.1 1110.1h11.2v11.2h-11.2zM306.8 1161.2h11.2v11.2h-11.2zM309.7 1161.2h11.2v11.2h-11.2zM312.6 1161.2h11.2v11.2h-11.2zM315.5 1161.2h11.2v11.2h-11.2zM318.4 1161.2h11.2v11.2h-11.2zM321.3 1161.2h11.2v11.2h-11.2zM324.2 1161.2h11.2v11.2h-11.2zM327.1 1161.2h11.2v11.2h-11.2zM330 1161.2h11.2v11.2h-11.2zM332.9 1161.2h11.2v11.2h-11.2zM335.8 1161.2h11.2v11.2h-11.2zM338.7 1161.2h11.2v11.2h-11.2zM341.6 1161.2h11.2v11.2h-11.2zM344.5 1161.2h11.2v11.2h-11.2zM347.4 1161.2h11.2v11.2h-11.2zM350.3 1161.2h11.2v11.2h-11.2zM353.2 1161.2h11.2v11.2h-11.2zM356.1 1161.2h11.2v11.2h-11.2zM359 1161.2h11.2v11.2h-11.2zM361.9 1161.2h11.2v11.2h-11.2zM364.8 1161.2h11.2v11.2h-11.2zM367.7 1161.2h11.2v11.2h-11.2zM370.6 1161.2h11.2v11.2h-11.2zM373.5 1161.2h11.2v11.2h-11.2zM387.8 1329.6h11.2v11.2h-11.2zM408.7 1320.2h11.2v11.2h-11.2zM436.7 1323h11.2v11.2h-11.2zM477.2 1327.8h11.2v11.2h-11.2zM533.4 1332.1h11.2v11.2h-11.2zM612.1 1335.9h11.2v11.2h-11.2zM700.3 1338.1h11.2v11.2h-11.2zM764.6 1339h11.2v11.2h-11.2zM810.5 1339.7h11.2v11.2h-11.2zM843.1 1340.2h11.2v11.2h-11.2zM866.6 1340.5h11.2v11.2h-11.2zM883.1 1340.7h11.2v11.2h-11.2zM894.6 1340.8h11.2v11.2h-11.2zM903.5 1340.8h11.2v11.2h-11.2zM909.9 1340.9h11.2v11.2h-11.2zM914.5 1340.9h11.2v11.2h-11.2zM917 1341.2h11.2v11.2h-11.2zM919.9 1341.2h11.2v11.2h-11.2zM922.7 1341.2h11.2v11.2h-11.2zM925.6 1341.2h11.2v11.2h-11.2zM928.5 1341.2h11.2v11.2h-11.2zM931.3 1341.2h11.2v11.2h-11.2zM934.2 1341.2h11.2v11.2h-11.2zM937.1 1341.2h11.2v11.2h-11.2zM939.9 1341.2h11.2v11.2h-11.2zM942.8 1341.2h11.2v11.2h-11.2zM945.7 1341.2h11.2v11.2h-11.2zM948.5 1341.2h11.2v11.2h-11.2zM951.4 1341.2h11.2v11.2h-11.2zM954.3 1341.2h11.2v11.2h-11.2zM957.1 1341.2h11.2v11.2h-11.2zM960 1341.2h11.2v11.2h-11.2zM962.9 1341.2h11.2v11.2h-11.2zM965.7 1341.2h11.2v11.2h-11.2zM968.6 1341.2h11.2v11.2h-11.2zM971.5 1341.2h11.2v11.2h-11.2zM974.3 1341.2h11.2v11.2h-11.2zM977.2 1341.2h11.2v11.2h-11.2zM980.1 1341.2h11.2v11.2h-11.2zM982.9 1341.2h11.2v11.2h-11.2zM985.8 1341.2h11.2v11.2h-11.2zM988.7 1341.2h11.2v11.2h-11.2zM991.5 1341.2h11.2v11.2h-11.2zM994.4 1341.2h11.2v11.2h-11.2z" fill="#515151"/>
<path d="M187.6 1346.1L281.6 1346.1L282 1410.2L282.5 1346.1L379.7 1345.1L393.4 1341.5L414.2 1335.7L442.4 1329.5L482.8 1323.5L539 1315.8L617.7 1304.8L705.9 1291.8L770.2 1281.5L816.1 1271.4L848.7 1263L872.2 1254.8L888.7 1248.4L900.2 1244.6L909.1 1242.6L915.5 1245.4L920.1 1257.9L922.3 1299.4L992.6 1299.4L993.7 1381L994.9 1329.7L999.6 1301" fill="none" stroke="#F14040" stroke-width="3.3" stroke-linejoin="round" stroke-linecap="round"/>
<path d="M181.1 1346.1a6.5 6.5 0 1 0 13 0a6.5 6.5 0 1 0 -13 0zM184.1 1346.1a6.5 6.5 0 1 0 13 0a6.5 6.5 0 1 0 -13 0zM187.2 1346.1a6.5 6.5 0 1 0 13 0a6.5 6.5 0 1 0 -13 0zM190.2 1346.1a6.5 6.5 0 1 0 13 0a6.5 6.5 0 1 0 -13 0zM193.3 1346.1a6.5 6.5 0 1 0 13 0a6.5 6.5 0 1 0 -13 0zM196.3 1346.1a6.5 6.5 0 1 0 13 0a6.5 6.5 0 1 0 -13 0zM199.3 1346.1a6.5 6.5 0 1 0 13 0a6.5 6.5 0 1 0 -13 0zM202.4 1346.1a6.5 6.5 0 1 0 13 0a6.5 6.5 0 1 0 -13 0zM205.4 1346.1a6.5 6.5 0 1 0 13 0a6.5 6.5 0 1 0 -13 0zM208.4 1346.1a6.5 6.5 0 1 0 13 0a6.5 6.5 0 1 0 -13 0zM211.5 1346.1a6.5 6.5 0 1 0 13 0a6.5 6.5 0 1 0 -13 0zM214.5 1346.1a6.5 6.5 0 1 0 13 0a6.5 6.5 0 1 0 -13 0zM217.6 1346.1a6.5 6.5 0 1 0 13 0a6.5 6.5 0 1 0 -13 0zM220.6 1346.1a6.5 6.5 0 1 0 13 0a6.5 6.5 0 1 0 -13 0zM223.6 1346.1a6.5 6.5 0 1 0 13 0a6.5 6.5 0 1 0 -13 0zM226.7 1346.1a6.5 6.5 0 1 0 13 0a6.5 6.5 0 1 0 -13 0zM229.7 1346.1a6.5 6.5 0 1 0 13 0a6.5 6.5 0 1 0 -13 0zM232.7 1346.1a6.5 6.5 0 1 0 13 0a6.5 6.5 0 1 0 -13 0zM235.8 1346.1a6.5 6.5 0 1 0 13 0a6.5 6.5 0 1 0 -13 0zM238.8 1346.1a6.5 6.5 0 1 0 13 0a6.5 6.5 0 1 0 -13 0zM241.9 1346.1a6.5 6.5 0 1 0 13 0a6.5 6.5 0 1 0 -13 0zM244.9 1346.1a6.5 6.5 0 1 0 13 0a6.5 6.5 0 1 0 -13 0zM247.9 1346.1a6.5 6.5 0 1 0 13 0a6.5 6.5 0 1 0 -13 0zM251 1346.1a6.5 6.5 0 1 0 13 0a6.5 6.5 0 1 0 -13 0zM254 1346.1a6.5 6.5 0 1 0 13 0a6.5 6.5 0 1 0 -13 0zM257 1346.1a6.5 6.5 0 1 0 13 0a6.5 6.5 0 1 0 -13 0zM260.1 1346.1a6.5 6.5 0 1 0 13 0a6.5 6.5 0 1 0 -13 0zM263.1 1346.1a6.5 6.5 0 1 0 13 0a6.5 6.5 0 1 0 -13 0zM266.2 1346.1a6.5 6.5 0 1 0 13 0a6.5 6.5 0 1 0 -13 0zM269.2 1346.1a6.5 6.5 0 1 0 13 0a6.5 6.5 0 1 0 -13 0zM272.2 1346.1a6.5 6.5 0 1 0 13 0a6.5 6.5 0 1 0 -13 0zM275.3 1346.1a6.5 6.5 0 1 0 13 0a6.5 6.5 0 1 0 -13 0zM278.3 1346.1a6.5 6.5 0 1 0 13 0a6.5 6.5 0 1 0 -13 0zM281.3 1346.1a6.5 6.5 0 1 0 13 0a6.5 6.5 0 1 0 -13 0zM284.4 1346.1a6.5 6.5 0 1 0 13 0a6.5 6.5 0 1 0 -13 0zM287.4 1346.1a6.5 6.5 0 1 0 13 0a6.5 6.5 0 1 0 -13 0zM290.5 1346.1a6.5 6.5 0 1 0 13 0a6.5 6.5 0 1 0 -13 0zM293.5 1346.1a6.5 6.5 0 1 0 13 0a6.5 6.5 0 1 0 -13 0zM297.5 1346.1a6.5 6.5 0 1 0 13 0a6.5 6.5 0 1 0 -13 0zM301.5 1346.1a6.5 6.5 0 1 0 13 0a6.5 6.5 0 1 0 -13 0zM305.5 1346.1a6.5 6.5 0 1 0 13 0a6.5 6.5 0 1 0 -13 0zM310 1346.1a6.5 6.5 0 1 0 13 0a6.5 6.5 0 1 0 -13 0zM314.5 1346.1a6.5 6.5 0 1 0 13 0a6.5 6.5 0 1 0 -13 0zM320.5 1346.1a6.5 6.5 0 1 0 13 0a6.5 6.5 0 1 0 -13 0zM326.5 1346.1a6.5 6.5 0 1 0 13 0a6.5 6.5 0 1 0 -13 0zM331.5 1346.1a6.5 6.5 0 1 0 13 0a6.5 6.5 0 1 0 -13 0zM336.5 1346.1a6.5 6.5 0 1 0 13 0a6.5 6.5 0 1 0 -13 0zM341 1346.1a6.5 6.5 0 1 0 13 0a6.5 6.5 0 1 0 -13 0zM345.5 1346a6.5 6.5 0 1 0 13 0a6.5 6.5 0 1 0 -13 0zM350 1346a6.5 6.5 0 1 0 13 0a6.5 6.5 0 1 0 -13 0zM354.5 1345.9a6.5 6.5 0 1 0 13 0a6.5 6.5 0 1 0 -13 0zM359 1345.8a6.5 6.5 0 1 0 13 0a6.5 6.5 0 1 0 -13 0zM363.5 1345.6a6.5 6.5 0 1 0 13 0a6.5 6.5 0 1 0 -13 0zM373.2 1345.1a6.5 6.5 0 1 0 13 0a6.5 6.5 0 1 0 -13 0zM386.9 1341.5a6.5 6.5 0 1 0 13 0a6.5 6.5 0 1 0 -13 0zM407.7 1335.7a6.5 6.5 0 1 0 13 0a6.5 6.5 0 1 0 -13 0zM435.9 1329.5a6.5 6.5 0 1 0 13 0a6.5 6.5 0 1 0 -13 0zM476.3 1323.5a6.5 6.5 0 1 0 13 0a6.5 6.5 0 1 0 -13 0zM532.5 1315.8a6.5 6.5 0 1 0 13 0a6.5 6.5 0 1 0 -13 0zM611.2 1304.8a6.5 6.5 0 1 0 13 0a6.5 6.5 0 1 0 -13 0zM699.4 1291.8a6.5 6.5 0 1 0 13 0a6.5 6.5 0 1 0 -13 0zM763.7 1281.5a6.5 6.5 0 1 0 13 0a6.5 6.5 0 1 0 -13 0zM809.6 1271.4a6.5 6.5 0 1 0 13 0a6.5 6.5 0 1 0 -13 0zM842.2 1263a6.5 6.5 0 1 0 13 0a6.5 6.5 0 1 0 -13 0zM865.7 1254.8a6.5 6.5 0 1 0 13 0a6.5 6.5 0 1 0 -13 0zM882.2 1248.4a6.5 6.5 0 1 0 13 0a6.5 6.5 0 1 0 -13 0zM893.7 1244.6a6.5 6.5 0 1 0 13 0a6.5 6.5 0 1 0 -13 0zM902.6 1242.6a6.5 6.5 0 1 0 13 0a6.5 6.5 0 1 0 -13 0zM909 1245.4a6.5 6.5 0 1 0 13 0a6.5 6.5 0 1 0 -13 0zM913.6 1257.9a6.5 6.5 0 1 0 13 0a6.5 6.5 0 1 0 -13 0zM916.1 1299.4a6.5 6.5 0 1 0 13 0a6.5 6.5 0 1 0 -13 0zM919 1299.4a6.5 6.5 0 1 0 13 0a6.5 6.5 0 1 0 -13 0zM921.9 1299.4a6.5 6.5 0 1 0 13 0a6.5 6.5 0 1 0 -13 0zM924.8 1299.4a6.5 6.5 0 1 0 13 0a6.5 6.5 0 1 0 -13 0zM927.8 1299.4a6.5 6.5 0 1 0 13 0a6.5 6.5 0 1 0 -13 0zM930.7 1299.4a6.5 6.5 0 1 0 13 0a6.5 6.5 0 1 0 -13 0zM933.6 1299.4a6.5 6.5 0 1 0 13 0a6.5 6.5 0 1 0 -13 0zM936.5 1299.4a6.5 6.5 0 1 0 13 0a6.5 6.5 0 1 0 -13 0zM939.4 1299.4a6.5 6.5 0 1 0 13 0a6.5 6.5 0 1 0 -13 0zM942.3 1299.4a6.5 6.5 0 1 0 13 0a6.5 6.5 0 1 0 -13 0zM945.3 1299.4a6.5 6.5 0 1 0 13 0a6.5 6.5 0 1 0 -13 0zM948.2 1299.4a6.5 6.5 0 1 0 13 0a6.5 6.5 0 1 0 -13 0zM951.1 1299.4a6.5 6.5 0 1 0 13 0a6.5 6.5 0 1 0 -13 0zM954 1299.4a6.5 6.5 0 1 0 13 0a6.5 6.5 0 1 0 -13 0zM956.9 1299.4a6.5 6.5 0 1 0 13 0a6.5 6.5 0 1 0 -13 0zM959.8 1299.4a6.5 6.5 0 1 0 13 0a6.5 6.5 0 1 0 -13 0zM962.8 1299.4a6.5 6.5 0 1 0 13 0a6.5 6.5 0 1 0 -13 0zM965.7 1299.4a6.5 6.5 0 1 0 13 0a6.5 6.5 0 1 0 -13 0zM968.6 1299.4a6.5 6.5 0 1 0 13 0a6.5 6.5 0 1 0 -13 0zM971.5 1299.4a6.5 6.5 0 1 0 13 0a6.5 6.5 0 1 0 -13 0zM974.4 1299.4a6.5 6.5 0 1 0 13 0a6.5 6.5 0 1 0 -13 0zM977.3 1299.4a6.5 6.5 0 1 0 13 0a6.5 6.5 0 1 0 -13 0zM980.3 1299.4a6.5 6.5 0 1 0 13 0a6.5 6.5 0 1 0 -13 0zM983.2 1299.4a6.5 6.5 0 1 0 13 0a6.5 6.5 0 1 0 -13 0zM986.1 1299.4a6.5 6.5 0 1 0 13 0a6.5 6.5 0 1 0 -13 0zM989 1299.4a6.5 6.5 0 1 0 13 0a6.5 6.5 0 1 0 -13 0zM988.4 1329.7a6.5 6.5 0 1 0 13 0a6.5 6.5 0 1 0 -13 0z" fill="#F14040"/>
</g>
<!-- device layer band (b) -->
<rect x="189.2" y="837.6" width="93" height="52.5" fill="#A6A6A6"/>
<rect x="282.2" y="837.6" width="19.9" height="51.2" fill="#92CDDC"/>
<rect x="302.1" y="837.6" width="50.7" height="51.2" fill="#00B050"/>
<rect x="352.8" y="837.6" width="568.8" height="51.2" fill="#00B0F0"/>
<rect x="921.6" y="836.3" width="77.2" height="52.5" fill="#F79646"/>
<text class="bd" x="232.3" y="874.8" font-size="15.8" text-anchor="middle">FTO</text>
<text class="bd" transform="translate(291.2 847.5) rotate(90)" font-size="14.5">TiO<tspan font-size="12.5" dy="6.5">2</tspan></text>
<text class="bd" transform="translate(324.6 847.5) rotate(90)" font-size="14.5">SnO<tspan font-size="12.5" dy="8">2</tspan></text>
<text class="bd" font-size="15.5"><tspan x="512.9" y="869.8" textLength="15.9" lengthAdjust="spacingAndGlyphs">Cs</tspan><tspan x="529.7" y="874.8" textLength="18.2" lengthAdjust="spacingAndGlyphs">0.1</tspan><tspan x="552.6" y="869.8" textLength="19.8" lengthAdjust="spacingAndGlyphs">FA</tspan><tspan x="573.2" y="874.8" textLength="27.1" lengthAdjust="spacingAndGlyphs">0.74</tspan><tspan x="603.8" y="869.8" textLength="24.4" lengthAdjust="spacingAndGlyphs">MA</tspan><tspan x="629.1" y="874.8" textLength="26.5" lengthAdjust="spacingAndGlyphs">0.13</tspan><tspan x="660.6" y="869.8" textLength="22" lengthAdjust="spacingAndGlyphs">PbI</tspan><tspan x="682.6" y="874.8" textLength="26.5" lengthAdjust="spacingAndGlyphs">2.48</tspan><tspan x="713.5" y="869.8" textLength="14.7" lengthAdjust="spacingAndGlyphs">Br</tspan><tspan x="728.8" y="874.8" textLength="27.4" lengthAdjust="spacingAndGlyphs">0.39</tspan></text>
<text class="bd" x="937.8" y="872.3" font-size="15.5" textLength="47.8" lengthAdjust="spacingAndGlyphs">CuSCN</text>
<!-- legend (b) -->
<path d="M750.6 1052.4H806.9" stroke="#515151" stroke-width="3.4"/>
<rect x="773.1" y="1046.9" width="11" height="11" fill="#515151"/>
<path d="M750.6 1088H806.9" stroke="#F14040" stroke-width="3.4"/>
<circle cx="778.6" cy="1088" r="6" fill="#F14040"/>
<text class="lg" x="813.3" y="1061.2" xml:space="preserve">Light   e<tspan class="sp" dy="-10.7">-</tspan></text>
<text class="lg" x="813.3" y="1096.1" xml:space="preserve">Light   h<tspan class="sp" dy="-9.5">+</tspan></text>
<text class="ttl" x="593.6" y="1600.8">Position (μm)</text>
<text class="ttl yt" transform="translate(118.5 1177) rotate(-90)">Life time lg(sec)</text>
<text class="pl" x="-1.7 15.4 42" y="933.9" style="font-size:53px">(b)</text>
</svg>
</body>
</html>
